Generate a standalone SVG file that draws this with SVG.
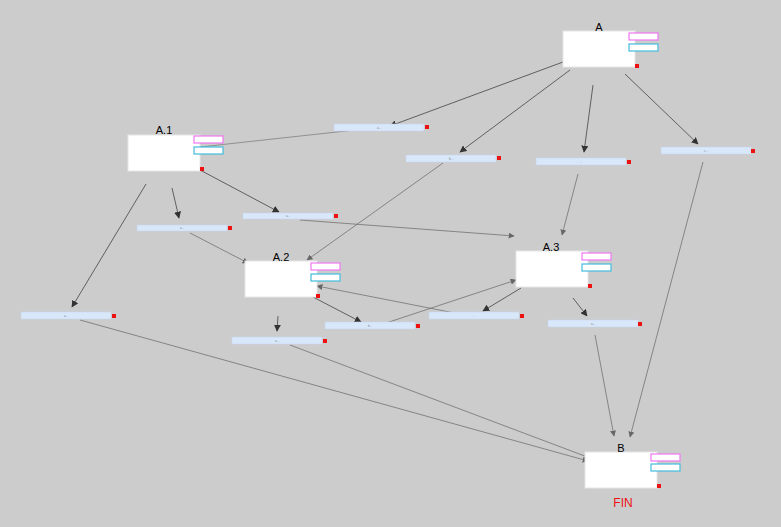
<svg xmlns="http://www.w3.org/2000/svg" width="781" height="527" viewBox="0 0 781 527">
<style>
.box{fill:#ffffff;stroke:#e6e6e6;stroke-width:1}
.pk{fill:#ffffff;stroke:#ee77ee;stroke-width:1.2}
.cy{fill:#ffffff;stroke:#44bbdd;stroke-width:1.2}
.rd{fill:#ee1111}
.bar{fill:#d8e7fa;stroke:#c8d6ea;stroke-width:0.6}
.lbl{font-family:"Liberation Sans",Arial,sans-serif;font-size:11px;fill:#000;text-anchor:middle}
.tiny{font-family:"Liberation Sans",Arial,sans-serif;font-size:3px;fill:#888;text-anchor:middle}
.e{fill:none;stroke:#444;stroke-width:0.8;marker-end:url(#ah)}
.e2{fill:none;stroke:#666;stroke-width:0.7;marker-end:url(#ah2)}
.e3{fill:none;stroke:#777;stroke-width:0.7}
</style>
<defs>
<marker id="ah" viewBox="0 0 10 10" refX="9" refY="5" markerWidth="7" markerHeight="7" markerUnits="userSpaceOnUse" orient="auto"><path d="M0,0 L10,5 L0,10 z" fill="#333"/></marker>
<marker id="ah2" viewBox="0 0 10 10" refX="9" refY="5" markerWidth="6" markerHeight="6" markerUnits="userSpaceOnUse" orient="auto"><path d="M0,0 L10,5 L0,10 z" fill="#666"/></marker>
</defs>
<rect width="781" height="527" fill="#cccccc"/>
<g id="connectors">
<path class="e" d="M563,62 L390,126"/>
<path class="e" d="M570,70 L460,152"/>
<path class="e" d="M593,85 L584,152"/>
<path class="e" d="M625,74 L698,144"/>
<path class="e3" d="M200,147 L355,130"/>
<path class="e2" d="M443,163 L307,260"/>
<path class="e2" d="M578,174 L562,235"/>
<path class="e2" d="M703,162 L630,437"/>
<path class="e" d="M172,188 L179,218"/>
<path class="e" d="M200,170 L279,212"/>
<path class="e" d="M146,184 L72,307"/>
<path class="e2" d="M190,233 L248,263"/>
<path class="e2" d="M300,220 L514,236"/>
<path class="e" d="M278,316 L277,331"/>
<path class="e" d="M313,297 L361,322"/>
<path class="e" d="M521,288 L483,311"/>
<path class="e" d="M573,298 L587,316"/>
<path class="e2" d="M380,325 L516,280"/>
<path class="e2" d="M470,316 L317,286"/>
<path class="e2" d="M80,320 L588,461"/>
<path class="e2" d="M290,345 L590,458"/>
<path class="e2" d="M595,335 L614,436"/>
</g>
<g id="A">
<rect class="box" x="563" y="31" width="72" height="36"/>
<text class="lbl" x="599" y="31">A</text>
<rect class="pk" x="629" y="33" width="29" height="7"/>
<rect class="cy" x="629" y="44" width="29" height="7"/>
<rect class="rd" x="635" y="64" width="4" height="4"/>
</g>
<g id="A1">
<rect class="box" x="128" y="135" width="72" height="36"/>
<text class="lbl" x="164" y="134">A.1</text>
<rect class="pk" x="194" y="136" width="29" height="7"/>
<rect class="cy" x="194" y="147" width="29" height="7"/>
<rect class="rd" x="200" y="167" width="4" height="4"/>
</g>
<g id="A2">
<rect class="box" x="245" y="261" width="72" height="36"/>
<text class="lbl" x="281" y="261">A.2</text>
<rect class="pk" x="311" y="263" width="29" height="7"/>
<rect class="cy" x="311" y="274" width="29" height="7"/>
<rect class="rd" x="316" y="294" width="4" height="4"/>
</g>
<g id="A3">
<rect class="box" x="516" y="251" width="72" height="36"/>
<text class="lbl" x="551" y="251">A.3</text>
<rect class="pk" x="582" y="253" width="29" height="7"/>
<rect class="cy" x="582" y="264" width="29" height="7"/>
<rect class="rd" x="588" y="284" width="4" height="4"/>
</g>
<g id="B">
<rect class="box" x="585" y="452" width="72" height="36"/>
<text class="lbl" x="621" y="452">B</text>
<rect class="pk" x="651" y="454" width="29" height="7"/>
<rect class="cy" x="651" y="464" width="29" height="7"/>
<rect class="rd" x="657" y="484" width="4" height="4"/>
<text x="623" y="507" style="font-family:'Liberation Sans',Arial,sans-serif;font-size:12px;fill:#ee1111;text-anchor:middle">FIN</text>
</g>
<g id="bar1"><rect class="bar" x="334" y="124" width="90" height="7"/><rect class="rd" x="425" y="125" width="4" height="4"/><text class="tiny" x="379" y="129">a...</text></g>
<g id="bar2"><rect class="bar" x="406" y="155" width="90" height="7"/><rect class="rd" x="497" y="156" width="4" height="4"/><text class="tiny" x="451" y="160">b...</text></g>
<g id="bar3"><rect class="bar" x="536" y="158" width="90" height="7"/><rect class="rd" x="627" y="160" width="4" height="4"/><text class="tiny" x="581" y="163">..</text></g>
<g id="bar4"><rect class="bar" x="661" y="147" width="90" height="7"/><rect class="rd" x="751" y="149" width="4" height="4"/><text class="tiny" x="706" y="152">c...</text></g>
<g id="bar5"><rect class="bar" x="137" y="225" width="90" height="6"/><rect class="rd" x="228" y="226" width="4" height="4"/><text class="tiny" x="182" y="229">a...</text></g>
<g id="bar6"><rect class="bar" x="243" y="213" width="90" height="6"/><rect class="rd" x="334" y="214" width="4" height="4"/><text class="tiny" x="288" y="217">a...</text></g>
<g id="bar7"><rect class="bar" x="21" y="312" width="90" height="7"/><rect class="rd" x="112" y="314" width="4" height="4"/><text class="tiny" x="66" y="317">a...</text></g>
<g id="bar8"><rect class="bar" x="232" y="337" width="90" height="7"/><rect class="rd" x="323" y="339" width="4" height="4"/><text class="tiny" x="277" y="342">a...</text></g>
<g id="bar9"><rect class="bar" x="325" y="322" width="90" height="7"/><rect class="rd" x="416" y="324" width="4" height="4"/><text class="tiny" x="370" y="327">b...</text></g>
<g id="bar10"><rect class="bar" x="429" y="312" width="90" height="7"/><rect class="rd" x="520" y="314" width="4" height="4"/><text class="tiny" x="474" y="317">..</text></g>
<g id="bar11"><rect class="bar" x="548" y="320" width="90" height="7"/><rect class="rd" x="638" y="322" width="4" height="4"/><text class="tiny" x="593" y="325">a...</text></g>
</svg>
